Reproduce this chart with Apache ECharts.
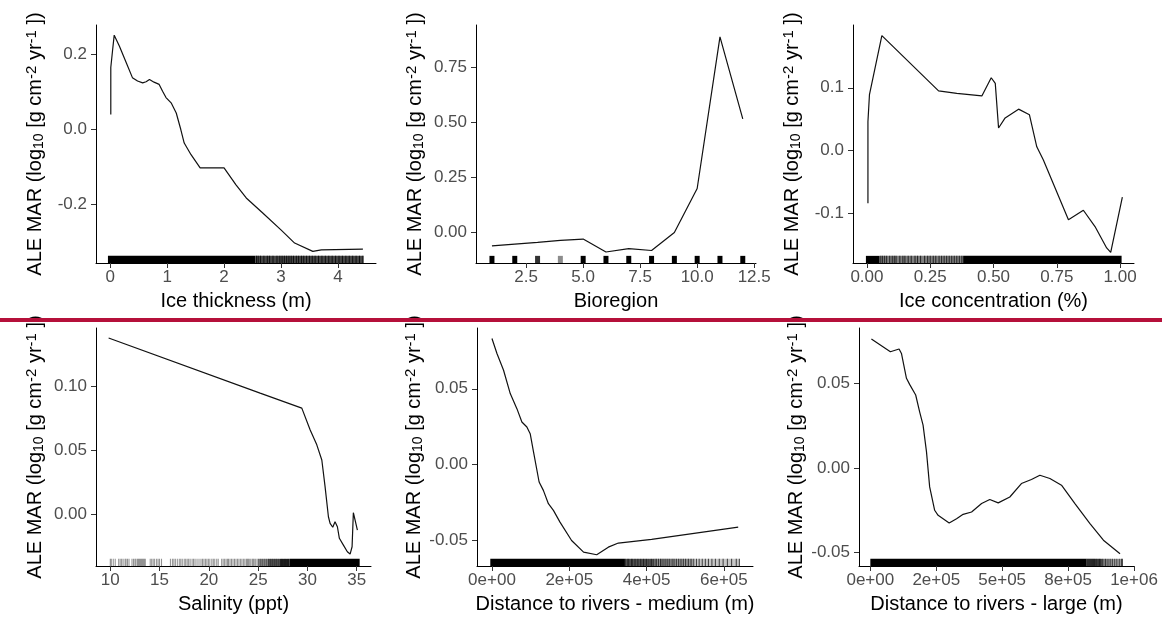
<!DOCTYPE html>
<html><head><meta charset="utf-8">
<script src="https://cdn.jsdelivr.net/npm/echarts@6/dist/echarts.min.js"></script>
<style>html,body{margin:0;padding:0;background:#fff}#c{width:1162px;height:618px}</style>
</head><body><div id="c"></div>
<script>
// ---------- Panel 1: Ice thickness ----------
const iceThickX = [0.01,0.01,0.04,0.07,0.16,0.28,0.39,0.48,0.57,0.63,0.69,0.77,0.86,0.92,0.98,1.07,1.16,1.24,1.30,1.42,1.58,2.00,2.21,2.39,2.68,3.00,3.24,3.56,3.71,4.44];
const iceThickY = [0.040,0.165,0.209,0.251,0.222,0.178,0.138,0.129,0.124,0.127,0.133,0.126,0.120,0.102,0.085,0.071,0.044,0.000,-0.036,-0.067,-0.102,-0.102,-0.147,-0.182,-0.222,-0.267,-0.302,-0.324,-0.320,-0.318];
const iceThickRugBands = [[-0.04,2.55,1],[2.55,4.45,0.72]];
const iceThickRugTicks = [2.57,2.6,2.64,2.7,2.76,2.8,2.86,2.93,2.98,3.02,3.06,3.1,3.14,3.18,3.22,3.27,3.31,3.36,3.4,3.45,3.5,3.55,3.6,3.66,3.72,3.78,3.84,3.9,3.96,4.02,4.08,4.14,4.2,4.26,4.32,4.38,4.44];
const iceThickXTicks = [0,1,2,3,4], iceThickXLabels = ['0','1','2','3','4'];
const iceThickYTicks = [-0.2,0,0.2], iceThickYLabels = ['-0.2','0.0','0.2'];

// ---------- Panel 2: Bioregion ----------
const bioX = [1,2,3,4,5,6,7,8,9,10,11,12];
const bioY = [-0.061,-0.053,-0.045,-0.036,-0.030,-0.089,-0.074,-0.082,0.000,0.200,0.890,0.517];
const bioRug = [[1,1,1],[2,2,1],[3,3,0.8],[4,4,0.45],[5,5,1],[6,6,1],[7,7,1],[8,8,1],[9,9,1],[10,10,1],[11,11,1],[12,12,1]];
const bioXTicks = [2.5,5,7.5,10,12.5], bioXLabels = ['2.5','5.0','7.5','10.0','12.5'];
const bioYTicks = [0,0.25,0.5,0.75], bioYLabels = ['0.00','0.25','0.50','0.75'];

// ---------- Panel 3: Ice concentration ----------
const iceConcX = [0.004,0.004,0.010,0.059,0.283,0.355,0.454,0.491,0.507,0.520,0.546,0.599,0.642,0.671,0.697,0.796,0.855,0.901,0.947,0.963,1.009];
const iceConcY = [-0.084,0.046,0.089,0.183,0.095,0.091,0.087,0.116,0.107,0.036,0.052,0.066,0.057,0.006,-0.015,-0.110,-0.095,-0.121,-0.155,-0.162,-0.074];
const iceConcRugBands = [[-0.004,0.05,1],[0.05,0.38,0.5],[0.38,1.006,1]];
const iceConcRugTicks = [0.055,0.062,0.07,0.078,0.09,0.1,0.108,0.115,0.13,0.142,0.15,0.163,0.175,0.19,0.2,0.212,0.228,0.24,0.25,0.262,0.272,0.285,0.295,0.305,0.315,0.325,0.335,0.345,0.355,0.365,0.375];
const iceConcXTicks = [0,0.25,0.5,0.75,1], iceConcXLabels = ['0.00','0.25','0.50','0.75','1.00'];
const iceConcYTicks = [-0.1,0,0.1], iceConcYLabels = ['-0.1','0.0','0.1'];

// ---------- Panel 4: Salinity ----------
const salX = [9.83,25.2,29.43,30.27,30.95,31.46,31.79,32.13,32.30,32.57,32.80,33.04,33.24,33.65,34.05,34.33,34.53,34.66,34.83,35.07];
const salY = [0.1378,0.0948,0.0831,0.0662,0.0545,0.0427,0.0219,-0.0016,-0.0067,-0.0098,-0.0055,-0.0094,-0.0184,-0.0237,-0.0289,-0.0307,-0.0250,0.0016,-0.0041,-0.0120];
const salRugTicks = [10.0,10.1,10.3,10.5,10.85,11.0,11.15,11.3,11.5,11.6,11.75,11.9,12.2,12.35,12.5,12.6,12.75,12.85,12.95,13.05,13.15,13.25,13.35,13.45,13.55,14.05,14.2,14.35,14.5,14.7,14.85,15.0,15.2,16.1,16.3,16.45,16.6,16.8,17.0,17.15,17.3,17.5,17.65,17.8,17.95,18.1,18.3,18.45,18.6,18.8,19.0,19.2,19.35,19.5,19.65,19.8,19.95,20.1,20.3,20.45,20.6,20.8,20.95,21.3,21.45,21.6,21.75,21.9,22.0,22.15,22.3,22.45,22.6,22.75,22.9,23.05,23.2,23.35,23.5,23.65,23.8,23.9,24.0,24.1,24.25,24.4,24.5,24.6,24.75,24.9,25.05,25.2,25.3,25.45,25.6,25.7,25.85,26.0,26.1,26.25,26.4,26.5,26.65,26.8,26.9,27.05,27.2,27.35,27.5,27.65,27.8,27.95,28.1];
const salRugBands = [[25.0,26.0,0.35],[26.0,27.2,0.6],[27.2,28.2,0.85],[28.2,35.3,1]];
const salXTicks = [10,15,20,25,30,35], salXLabels = ['10','15','20','25','30','35'];
const salYTicks = [0,0.05,0.1], salYLabels = ['0.00','0.05','0.10'];

// ---------- Panel 5: Distance to rivers - medium ----------
const medX = [0,12900,30000,47300,64500,77400,90300,98900,107500,122000,133000,146000,159000,176000,206000,237000,271000,301000,327000,413000,637000];
const medY = [0.0831,0.0732,0.0622,0.0468,0.0369,0.0281,0.0248,0.0204,0.0084,-0.0114,-0.0169,-0.0257,-0.0301,-0.0378,-0.0499,-0.0576,-0.0593,-0.0543,-0.0516,-0.0492,-0.0411];
const medRugBands = [[-4300,344000,1],[344000,420000,0.55],[420000,520000,0.4],[520000,641000,0.22]];
const medRugTicks = [346000,350000,353000,357000,361000,364000,368000,372000,376000,380000,384000,388000,392000,396000,400000,404000,409000,413000,417000,422000,426000,431000,436000,440000,445000,450000,455000,460000,466000,471000,477000,483000,489000,495000,501000,508000,515000,522000,529000,536000,544000,552000,560000,569000,578000,588000,598000,609000,620000,632000,640000];
const medXTicks = [0,200000,400000,600000], medXLabels = ['0e+00','2e+05','4e+05','6e+05'];
const medYTicks = [-0.05,0,0.05], medYLabels = ['-0.05','0.00','0.05'];

// ---------- Panel 6: Distance to rivers - large ----------
const lrgX = [4000,76000,109000,118000,137000,149000,172000,187000,200000,213000,225000,244000,257000,299000,327000,352000,384000,422000,453000,485000,529000,573000,611000,643000,681000,725000,776000,833000,884000,947000];
const lrgY = [0.0766,0.0690,0.0706,0.0680,0.0532,0.0496,0.0433,0.0333,0.0254,0.0095,-0.0113,-0.0252,-0.0282,-0.0327,-0.0302,-0.0276,-0.0262,-0.0212,-0.0188,-0.0208,-0.0173,-0.0093,-0.0069,-0.0044,-0.0063,-0.0103,-0.0212,-0.0331,-0.0430,-0.0510];
const lrgRugBands = [[0,820000,1],[820000,880000,0.6],[880000,957000,0.3]];
const lrgRugTicks = [822000,826000,830000,834000,838000,842000,846000,850000,855000,859000,864000,869000,874000,880000,886000,892000,898000,905000,912000,919000,927000,935000,944000,952000,956000];
const lrgXTicks = [0,250000,500000,750000,1000000], lrgXLabels = ['0e+00','2e+05','5e+05','8e+05','1e+06'];
const lrgYTicks = [-0.05,0,0.05], lrgYLabels = ['-0.05','0.00','0.05'];

const FONT = '"Liberation Sans", Arial, sans-serif';
const yTitle = '{t|ALE MAR (log}{sub|10}{t| [g cm}{sup|-2}{t| yr}{sup|-1}{t| ])}';

function tickRug(list, a) { return list.map(v => [v, v, a]); }

const panels = [
  {box:[96,25,280,238], xLim:[-0.25,4.67], yLim:[-0.355,0.278], xs:iceThickX, ys:iceThickY, rug:iceThickRugBands.concat(tickRug(iceThickRugTicks,0.8)), tickW:1, xT:iceThickXTicks, xL:iceThickXLabels, yT:iceThickYTicks, yL:iceThickYLabels, xName:'Ice thickness (m)'},
  {box:[476,25,280,238], xLim:[0.30,12.58], yLim:[-0.139,0.944], xs:bioX, ys:bioY, rug:bioRug, tickW:5, xT:bioXTicks, xL:bioXLabels, yT:bioYTicks, yL:bioYLabels, xName:'Bioregion'},
  {box:[853,25,281,238], xLim:[-0.055,1.055], yLim:[-0.179,0.2], xs:iceConcX, ys:iceConcY, rug:iceConcRugBands.concat(tickRug(iceConcRugTicks,0.75)), tickW:1, xT:iceConcXTicks, xL:iceConcXLabels, yT:iceConcYTicks, yL:iceConcYLabels, xName:'Ice concentration (%)'},
  {box:[96,328,275,238], xLim:[8.55,36.45], yLim:[-0.040,0.1456], xs:salX, ys:salY, rug:salRugBands.concat(tickRug(salRugTicks,0.45)), tickW:1, xT:salXTicks, xL:salXLabels, yT:salYTicks, yL:salYLabels, xName:'Salinity (ppt)'},
  {box:[477,328,276,238], xLim:[-38700,675300], yLim:[-0.0667,0.09], xs:medX, ys:medY, rug:medRugBands.concat(tickRug(medRugTicks,0.7)), tickW:1, xT:medXTicks, xL:medXLabels, yT:medYTicks, yL:medYLabels, xName:'Distance to rivers - medium (m)'},
  {box:[859,328,275,238], xLim:[-43000,1000000], yLim:[-0.0583,0.0831], xs:lrgX, ys:lrgY, rug:lrgRugBands.concat(tickRug(lrgRugTicks,0.7)), tickW:1, xT:lrgXTicks, xL:lrgXLabels, yT:lrgYTicks, yL:lrgYLabels, xName:'Distance to rivers - large (m)'}
];

function lab(ticks, labels, v) {
  for (let i = 0; i < ticks.length; i++) if (Math.abs(ticks[i]-v) < 1e-9*Math.max(1,Math.abs(v))) return labels[i];
  return '';
}

const grid = [], xAxis = [], yAxis = [], series = [];
panels.forEach((p, i) => {
  grid.push({left:p.box[0], top:p.box[1], width:p.box[2], height:p.box[3], containLabel:false, outerBoundsMode:'none'});
  xAxis.push({type:'value', gridIndex:i, min:p.xLim[0], max:p.xLim[1],
    name:p.xName, nameLocation:'middle', nameGap:28,
    nameTextStyle:{fontSize:20, color:'#000', fontFamily:FONT},
    axisLine:{show:true, onZero:false, lineStyle:{color:'#000', width:1}},
    axisTick:{show:true, length:5, customValues:p.xT, lineStyle:{color:'#333', width:1}},
    axisLabel:{customValues:p.xT, formatter:v=>lab(p.xT,p.xL,v), margin:6, fontSize:17, color:'#4d4d4d', fontFamily:FONT, hideOverlap:false},
    splitLine:{show:false}});
  yAxis.push({type:'value', gridIndex:i, min:p.yLim[0], max:p.yLim[1],
    name:yTitle, nameLocation:'middle', nameGap:50, nameRotate:90,
    nameTextStyle:{color:'#000', fontFamily:FONT, rich:{
      t:{fontSize:20, color:'#000', fontFamily:FONT, lineHeight:22, verticalAlign:'middle'},
      sub:{fontSize:14, color:'#000', fontFamily:FONT, lineHeight:14, verticalAlign:'bottom'},
      sup:{fontSize:15, color:'#000', fontFamily:FONT, lineHeight:15, verticalAlign:'top'}}},
    axisLine:{show:true, onZero:false, lineStyle:{color:'#000', width:1}},
    axisTick:{show:true, length:5, customValues:p.yT, lineStyle:{color:'#333', width:1}},
    axisLabel:{customValues:p.yT, formatter:v=>lab(p.yT,p.yL,v), margin:9, fontSize:17, color:'#4d4d4d', fontFamily:FONT, hideOverlap:false},
    splitLine:{show:false}});
  const yMin = p.yLim[0], yMax = p.yLim[1], tw = p.tickW;
  series.push({type:'custom', xAxisIndex:i, yAxisIndex:i, silent:true, clip:false, encode:{x:[0,1]},
    data:p.rug,
    renderItem:(params, api) => {
      const x0 = api.value(0), x1 = api.value(1), a = api.value(2);
      const pb = api.coord([x0, yMin]), pt = api.coord([x0, yMax]), p1 = api.coord([x1, yMin]);
      const h = (pb[1]-pt[1]) * 0.03;
      let left = pb[0], w = p1[0]-pb[0];
      if (w < tw) { left = (pb[0]+p1[0])/2 - tw/2; w = tw; }
      return {type:'rect', shape:{x:left, y:pb[1]-h, width:w, height:h}, style:{fill:'rgba(0,0,0,'+a+')'}};
    }});
  series.push({type:'line', xAxisIndex:i, yAxisIndex:i, showSymbol:false, silent:true, animation:false,
    lineStyle:{color:'#111', width:1.2}, data:p.xs.map((x,k)=>[x,p.ys[k]])});
});

const chart = echarts.init(document.getElementById('c'), null, {renderer:'canvas'});
chart.setOption({
  animation:false,
  backgroundColor:'#fff',
  grid, xAxis, yAxis, series,
  graphic:[{type:'rect', left:0, top:318, shape:{width:1162, height:4}, style:{fill:'#b5103a'}, z:100}]
});
</script></body></html>
